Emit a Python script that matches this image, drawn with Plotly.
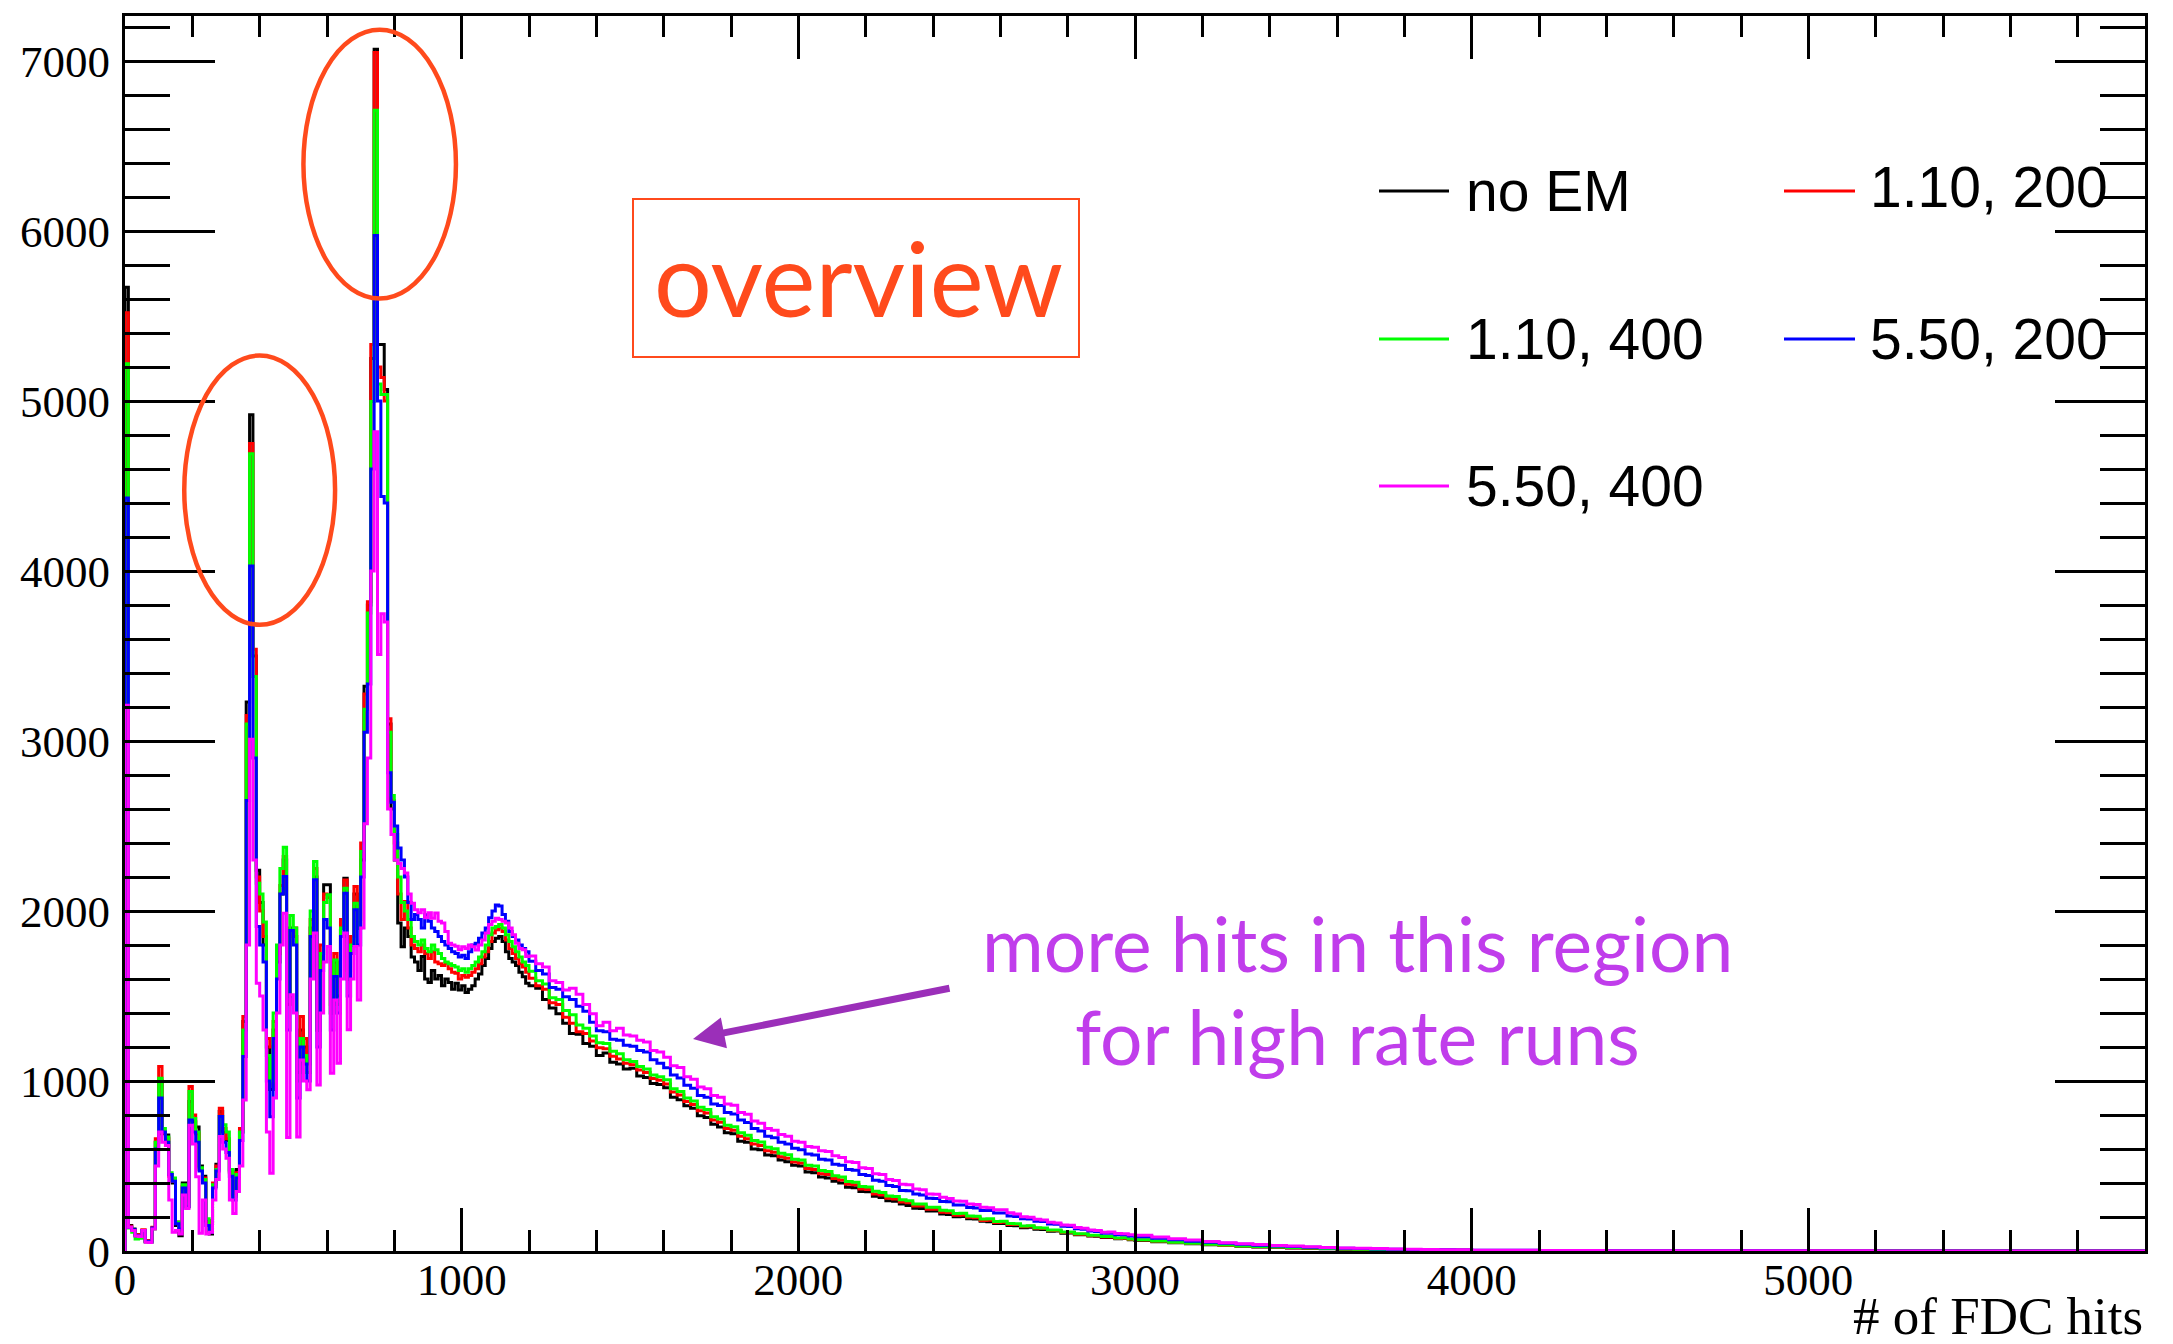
import plotly.graph_objects as go

# ---------------- binning (bin edges, data units) ----------------
BIN_SEGMENTS = [(0, 1200, 10), (1200, 3000, 20), (3000, 4000, 50), (4000, 6000, 200)]

# ---------------- series values (one value per bin) ----------------
no_em = [5670,150,130,95,90,120,55,55,135,640,
 1000,690,683,450,400,150,90,400,260,880,
 760,729,500,440,180,100,380,510,820,700,
 650,470,330,480,700,1350,3230,4920,3500,2240,
 2050,1800,1200,950,1300,1700,2100,2300,1500,1900,
 1850,1050,1300,1200,1100,1900,2200,1300,1700,2154,
 2154,1400,1700,1500,1900,2193,1600,1800,2100,1900,
 2300,3322,3800,5250,7070,5332,5332,5068,3100,2600,
 2300,1930,1790,1900,1850,1730,1700,1650,1733,1600,
 1580,1650,1600,1620,1560,1600,1580,1540,1575,1536,
 1560,1520,1540,1560,1600,1630,1680,1720,1780,1820,
 1840,1850,1820,1760,1720,1700,1680,1640,1614,1575,
 1560,1545,1480,1430,1395,1340,1280,1275,1220,1205,
 1150,1165,1110,1100,1070,1075,1030,1020,985,980,
 960,905,890,855,840,795,785,745,730,695,
 690,645,640,600,595,565,560,535,525,505,
 500,465,460,435,430,410,400,375,372,350,
 348,322,315,296,292,276,268,252,250,236,
 235,218,215,202,203,190,188,175,172,162,
 162,150,149,137,139,128,127,116,117,105,
 106,96,96,88,87,80,80,72,73,66,
 62,55,48,42,37,32,28,24,21,18,15,13,11,10,8,7,6,5,4,4,
 3,2,1,1,0,0,0,0,0,0]

em_110_200 = [5520,145,120,90,95,125,60,62,140,660,
 1085,700,660,440,410,170,150,380,290,967,
 800,690,480,430,170,120,400,500,840,720,
 660,460,340,460,720,1379,3150,4750,3540,2200,
 2000,1850,1250,1200,1350,1750,2150,2320,1450,1850,
 1900,1100,1379,1250,1150,1950,2250,1350,1800,2100,
 2080,1450,1750,1550,1950,2183,1650,1850,2144,1950,
 2400,3277,3820,5332,7050,5200,5138,5000,3131,2650,
 2400,2100,1950,2056,1900,1800,1780,1760,1800,1750,
 1720,1760,1700,1690,1680,1693,1660,1640,1634,1600,
 1620,1610,1620,1640,1660,1690,1730,1760,1820,1870,
 1890,1900,1880,1830,1780,1750,1720,1690,1670,1640,
 1605,1560,1540,1460,1450,1375,1340,1290,1280,1235,
 1195,1190,1145,1130,1105,1095,1065,1050,1015,1005,
 982,935,918,880,862,825,812,770,757,720,
 711,675,661,630,621,590,581,555,546,523,
 517,485,480,455,450,427,417,393,390,365,
 362,336,329,310,306,288,284,264,264,246,
 246,228,226,211,212,198,196,180,181,167,
 169,156,156,143,145,134,133,120,121,109,
 109,99,99,90,90,82,82,74,75,68,
 64,57,50,44,38,33,29,25,22,19,16,14,12,10,9,8,7,6,5,4,
 3,2,1,1,0,0,0,0,0,0]

em_110_400 = [5220,135,110,70,75,115,55,50,130,640,
 1016,720,670,460,430,170,140,390,280,938,
 780,700,490,420,190,130,390,480,791,742,
 700,480,320,450,700,1300,3100,4690,3380,2164,
 2100,1935,1150,1000,1400,1800,2250,2375,1500,1974,
 1900,1000,1250,1150,1050,2000,2292,1300,1750,2050,
 2095,1400,1712,1450,1900,2134,1600,1800,2046,1900,
 2350,3187,3753,4997,6710,5100,5038,5038,3052,2680,
 2450,2200,2050,2000,1950,1850,1820,1800,1830,1780,
 1760,1800,1772,1750,1720,1700,1690,1680,1670,1650,
 1660,1640,1660,1680,1700,1730,1760,1800,1860,1900,
 1909,1920,1900,1860,1820,1790,1760,1730,1700,1680,
 1645,1590,1570,1490,1480,1415,1390,1330,1310,1265,
 1225,1220,1175,1160,1125,1115,1085,1070,1035,1025,
 1008,955,938,900,882,845,832,790,777,740,
 731,695,681,650,641,610,601,575,566,540,
 535,505,500,473,467,443,435,409,405,380,
 376,351,344,324,320,301,296,276,276,258,
 257,239,237,221,222,206,204,188,189,174,
 175,162,161,147,149,137,136,123,124,112,
 112,102,102,93,93,85,85,77,78,71,
 66,59,52,45,40,35,30,26,23,20,17,14,12,11,9,8,7,6,5,4,
 3,2,1,1,1,0,0,0,0,0]

em_550_200 = [4430,140,125,90,90,120,58,55,135,600,
 900,700,640,450,410,160,130,370,260,771,
 700,640,470,400,150,110,370,470,791,640,
 580,440,300,430,650,1144,2650,4030,2900,1909,
 1800,1700,1000,790,1250,1600,2100,2203,1300,1885,
 1800,900,1200,1100,1000,1850,2184,1200,1650,1950,
 1900,1300,1615,1400,1850,2105,1500,1750,2007,1800,
 2200,3052,3336,4600,5974,5000,4438,4400,2814,2640,
 2500,2370,2300,2200,2050,1950,1980,1950,1900,1978,
 1940,1900,1880,1850,1820,1800,1780,1760,1750,1730,
 1740,1720,1760,1800,1811,1840,1870,1900,1960,2000,
 2036,2030,1980,1940,1880,1850,1830,1800,1780,1760,
 1705,1650,1630,1550,1540,1495,1480,1440,1410,1345,
 1295,1290,1245,1240,1210,1205,1180,1170,1125,1105,
 1078,1035,1018,975,958,915,905,865,856,815,
 806,770,756,720,706,675,666,640,630,605,
 595,570,565,540,535,510,505,480,475,450,
 444,416,410,386,380,356,354,336,329,311,
 309,291,289,271,271,256,253,238,238,224,
 223,206,203,189,188,175,173,159,158,145,
 144,131,128,118,115,105,105,96,96,88,
 84,75,66,58,51,45,39,34,30,26,22,19,16,14,12,10,9,8,7,6,
 4,3,2,1,1,0,0,0,0,0]

em_550_400 = [3210,140,120,88,85,120,52,50,130,500,
 700,640,620,300,110,120,100,330,250,740,
 630,437,104,300,100,110,300,420,673,600,
 546,300,220,350,500,889,1800,3010,2300,1575,
 1500,1300,700,457,900,1400,1800,1987,667,1507,
 1400,670,1124,1000,948,1600,1870,977,1400,1700,
 1791,1046,1477,1105,1600,1870,1301,1600,1791,1477,
 1900,2513,2900,4000,4820,3509,3749,3700,2600,2450,
 2300,2280,2250,2223,2100,2046,2007,1990,2007,1960,
 1990,1958,1988,1940,1929,1880,1811,1800,1792,1772,
 1790,1780,1800,1790,1770,1800,1830,1870,1920,1940,
 1958,1950,1940,1929,1900,1860,1811,1780,1772,1733,
 1735,1690,1670,1590,1580,1535,1545,1510,1450,1395,
 1325,1345,1295,1310,1270,1265,1240,1230,1180,1170,
 1140,1090,1080,1025,1010,965,955,915,905,865,
 858,815,805,765,752,720,710,685,675,645,
 640,615,610,590,585,560,550,525,520,490,
 485,455,450,420,415,393,390,365,360,335,
 334,316,309,294,293,276,273,258,255,242,
 243,225,218,202,199,187,183,169,165,153,
 152,138,134,123,120,111,112,103,102,96,
 92,82,72,64,56,49,43,38,33,29,25,21,18,16,14,12,10,9,8,7,
 5,3,2,1,1,1,0,0,0,0]

series_names = ["no EM", "1.10, 200", "1.10, 400", "5.50, 200", "5.50, 400"]
series_values = [no_em, em_110_200, em_110_400, em_550_200, em_550_400]
series_colors = ["#000000", "#FF0000", "#00FF00", "#0000FF", "#FF00FF"]

# axis ranges / ticks
X_RANGE = [0, 6000]
Y_RANGE = [0, 7265]

# ---------------- build bin edges ----------------
edges = []
for lo, hi, w in BIN_SEGMENTS:
    edges.extend(range(lo, hi, w))
edges.append(BIN_SEGMENTS[-1][1])

fig = go.Figure()
for name, vals, col in zip(series_names, series_values, series_colors):
    xs = [edges[0]] + edges[:-1] + [edges[-1]]
    ys = [0] + list(vals) + [vals[-1]]
    fig.add_trace(go.Scatter(x=xs, y=ys, mode="lines", name=name,
                             line=dict(color=col, width=3, shape="hv"),
                             showlegend=False, hoverinfo="skip"))

# ---------------- layout geometry ----------------
W, H = 2173, 1344
ML, MR, MT, MB = 125, 28, 16, 93
PW = W - ML - MR
PH = H - MT - MB

def px(xp):
    return (xp - ML) / PW

def py(yp):
    return (H - MB - yp) / PH

tick_font = dict(family="Liberation Serif, Times New Roman, serif", size=45, color="black")

fig.update_layout(
    width=W, height=H,
    margin=dict(l=ML, r=MR, t=MT, b=MB, pad=0),
    paper_bgcolor="white", plot_bgcolor="white",
    xaxis=dict(range=X_RANGE, showgrid=False, zeroline=False,
               showline=True, linewidth=3, linecolor="black", mirror="allticks",
               ticks="inside", ticklen=43, tickwidth=3, tickcolor="black",
               dtick=1000, tick0=0, tickfont=tick_font, ticklabelstandoff=-13,
               minor=dict(dtick=200, ticklen=21, tickwidth=3, ticks="inside", tickcolor="black", showgrid=False)),
    yaxis=dict(range=Y_RANGE, showgrid=False, zeroline=False,
               showline=True, linewidth=3, linecolor="black", mirror="allticks",
               ticks="inside", ticklen=90, tickwidth=3, tickcolor="black",
               dtick=1000, tick0=0, tickfont=tick_font, ticklabelstandoff=3,
               minor=dict(dtick=200, ticklen=45, tickwidth=3, ticks="inside", tickcolor="black", showgrid=False)),
)

shapes = []
annots = []

# circled peaks
ORANGE = "#FF4A1C"
shapes.append(dict(type="circle", xref="x", yref="y", x0=530, x1=983, y0=5603, y1=7184,
                   line=dict(color=ORANGE, width=4.5)))
shapes.append(dict(type="circle", xref="x", yref="y", x0=176, x1=624, y0=3684, y1=5268,
                   line=dict(color=ORANGE, width=4.5)))

# overview box
shapes.append(dict(type="rect", xref="paper", yref="paper", x0=px(633), x1=px(1079),
                   y0=py(357), y1=py(199), line=dict(color=ORANGE, width=2)))
annots.append(dict(xref="paper", yref="paper", x=px(858), y=py(278), text="overview",
                   showarrow=False, xanchor="center", yanchor="middle",
                   font=dict(family="Lato, Open Sans, sans-serif", size=102, color=ORANGE)))

# legend (manual, ROOT style)
leg_rows = [191, 339, 486]
leg_cols_line = [(1379, 1449), (1784, 1855)]
leg_cols_text = [1464, 1868]
for i, (name, col) in enumerate(zip(series_names, series_values and series_colors)):
    r, c = divmod(i, 2)
    yy = py(leg_rows[r])
    shapes.append(dict(type="line", xref="paper", yref="paper",
                       x0=px(leg_cols_line[c][0]), x1=px(leg_cols_line[c][1]), y0=yy, y1=yy,
                       line=dict(color=col, width=3)))
    ty = py(leg_rows[r] - (4 if c == 1 and r == 0 else 0))
    annots.append(dict(xref="paper", yref="paper", x=px(leg_cols_text[c]), y=ty, text=name,
                       showarrow=False, xanchor="left", yanchor="middle",
                       font=dict(family="Liberation Sans, Arial, sans-serif", size=57, color="black")))

# purple comment + arrow
PURPLE_TXT = "#C03DEB"
PURPLE_ARW = "#9B2FB9"
annots.append(dict(xref="paper", yref="paper", x=px(1357), y=py(943), text="more hits in this region",
                   showarrow=False, xanchor="center", yanchor="middle",
                   font=dict(family="Lato, sans-serif", size=75, color=PURPLE_TXT)))
annots.append(dict(xref="paper", yref="paper", x=px(1357), y=py(1036), text="for high rate runs",
                   showarrow=False, xanchor="center", yanchor="middle",
                   font=dict(family="Lato, sans-serif", size=75, color=PURPLE_TXT)))
annots.append(dict(xref="paper", yref="paper", x=px(693), y=py(1039), text="",
                   showarrow=True, arrowhead=2, arrowsize=0.9, arrowwidth=7, arrowcolor=PURPLE_ARW,
                   ax=258, ay=-51, axref="pixel", ayref="pixel"))

# x-axis title
annots.append(dict(xref="paper", yref="paper", x=1.0, y=py(1316), text="# of FDC hits",
                   showarrow=False, xanchor="right", yanchor="middle",
                   font=dict(family="Liberation Serif, Times New Roman, serif", size=53, color="black")))

fig.update_layout(shapes=shapes, annotations=annots)

fig.write_html("out.html", config={"displayModeBar": False},
               post_script="document.body.style.margin='0';document.body.style.overflow='hidden';")
